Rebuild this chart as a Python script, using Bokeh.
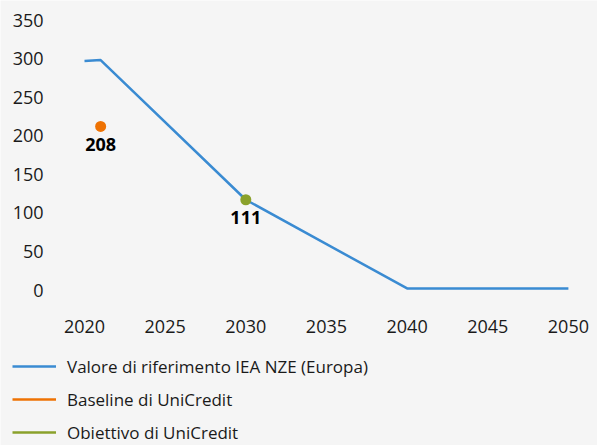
from bokeh.plotting import figure
from bokeh.models import Range1d, FixedTicker, Legend, LegendItem, ColumnDataSource
from bokeh.core.properties import value
from bokeh.embed import file_html
from bokeh.resources import INLINE

# Data
iea_years = [2020, 2021, 2030, 2040, 2050]
iea_values = [297, 298, 117, 2, 2]
baseline_years = [2021]
baseline_values = [212]
baseline_labels = ["208"]
target_years = [2030]
target_values = [117]
target_labels = ["111"]
series_names = ["Valore di riferimento IEA NZE (Europa)", "Baseline di UniCredit", "Obiettivo di UniCredit"]
x_ticks = [2020, 2025, 2030, 2035, 2040, 2045, 2050]
y_ticks = [0, 50, 100, 150, 200, 250, 300, 350]

BG = "#f5f5f5"
BLUE = "#3a8bd2"
ORANGE = "#ee7203"
GREEN = "#8aa12b"
FONT = "Open Sans"
TXT = "#1a1a1a"

p = figure(width=597, height=445, output_backend="svg", toolbar_location=None,
           x_range=Range1d(2014.792, 2051.804), y_range=Range1d(-201.58, 375.29),
           min_border_left=0, min_border_right=0, min_border_top=0, min_border_bottom=0,
           background_fill_color=BG, border_fill_color=BG, outline_line_color=None)

p.xgrid.visible = False
p.ygrid.visible = False
for ax in (p.xaxis[0], p.yaxis[0]):
    ax.axis_line_color = None
    ax.major_tick_line_color = None
    ax.minor_tick_line_color = None
    ax.major_tick_out = 0
    ax.major_tick_in = 0
    ax.major_label_text_font = FONT
    ax.major_label_text_font_size = "18px"
    ax.major_label_text_color = TXT
p.xaxis[0].ticker = FixedTicker(ticks=x_ticks)
p.yaxis[0].ticker = FixedTicker(ticks=y_ticks)
p.xaxis[0].fixed_location = -20.09
p.yaxis[0].fixed_location = 2017.892
p.xaxis[0].major_label_standoff = 15
p.yaxis[0].major_label_standoff = 7

r_iea = p.line(iea_years, iea_values, line_color=BLUE, line_width=2.5)

bsrc = ColumnDataSource(dict(x=baseline_years, y=baseline_values, t=baseline_labels))
tsrc = ColumnDataSource(dict(x=target_years, y=target_values, t=target_labels))
# single-point lines: nothing drawn in the plot, used for the legend swatches
r_b = p.line("x", "y", source=bsrc, line_color=ORANGE, line_width=2.5)
r_t = p.line("x", "y", source=tsrc, line_color=GREEN, line_width=2.5)
p.scatter("x", "y", source=bsrc, size=11, fill_color=ORANGE, line_color=None)
p.scatter("x", "y", source=tsrc, size=11, fill_color=GREEN, line_color=None)
for src in (bsrc, tsrc):
    p.text("x", "y", text="t", source=src, y_offset=18, text_align="center",
           text_baseline="middle", text_font=value(FONT), text_font_style="bold",
           text_font_size="18px", text_color="#000000")

legend = Legend(items=[LegendItem(label=n, renderers=[r]) for n, r in zip(series_names, [r_iea, r_b, r_t])],
                location=(12, 1), orientation="vertical",
                padding=0, margin=0, spacing=9,
                glyph_width=44, glyph_height=24, label_height=24, label_standoff=11,
                label_text_font=FONT, label_text_font_size="17px", label_text_color=TXT,
                border_line_color=None, background_fill_alpha=0)
p.add_layout(legend, "center")

open("out.html", "w").write(file_html(p, INLINE))
